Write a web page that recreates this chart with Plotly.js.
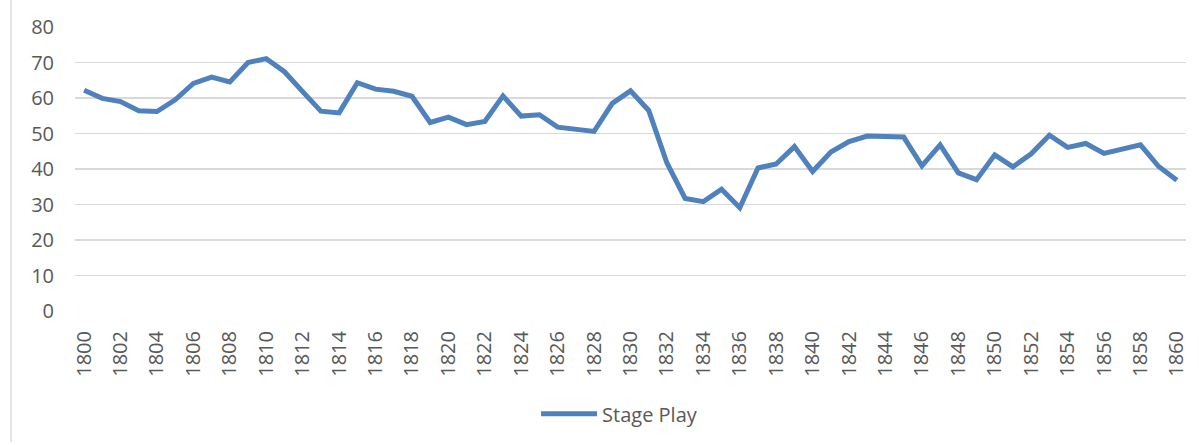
<!DOCTYPE html>
<html>
<head>
<meta charset="utf-8">
<script src="https://cdn.plot.ly/plotly-3.0.1.min.js"></script>
<style>
html,body{margin:0;padding:0;background:#fff;}
#chart{width:1199px;height:445px;}
</style>
</head>
<body>
<div id="chart"></div>
<script>
const years = [];
for (let y = 1800; y <= 1860; y++) years.push(y);
const seriesName = "Stage Play";
const stagePlay = [
  62.2, 59.9, 59.0, 56.4, 56.2, 59.5, 64.1, 65.9, 64.5, 70.0,
  71.1, 67.4, 61.8, 56.3, 55.8, 64.3, 62.5, 61.9, 60.5, 53.1,
  54.6, 52.5, 53.4, 60.6, 54.9, 55.3, 51.8, 51.1, 50.6, 58.5,
  62.0, 56.5, 41.7, 31.7, 30.8, 34.3, 29.1, 40.3, 41.4, 46.3,
  39.3, 44.8, 47.7, 49.3, 49.3, 49.0, 40.9, 46.8, 38.9, 37.0,
  44.0, 40.6, 44.3, 49.5, 46.1, 47.2, 44.4, 45.6, 46.8, 40.7,
  36.8
];
const yTicks = [0, 10, 20, 30, 40, 50, 60, 70, 80];
const xTicks = years.filter(y => (y - 1800) % 2 === 0);

const font = {family: "Open Sans, Liberation Sans, sans-serif", size: 20, color: "#595959"};

const trace = {
  x: years,
  y: stagePlay,
  type: "scatter",
  mode: "lines",
  name: seriesName,
  line: {color: "#4f81bd", width: 5, shape: "linear"}
};

const layout = {
  width: 1199,
  height: 445,
  margin: {l: 75, r: 13, t: 27, b: 132, pad: 0},
  paper_bgcolor: "#ffffff",
  plot_bgcolor: "#ffffff",
  font: font,
  showlegend: true,
  legend: {
    orientation: "h",
    x: 0.415, xanchor: "left",
    y: -0.362, yanchor: "middle",
    font: font,
    itemwidth: 56,
    bgcolor: "rgba(0,0,0,0)"
  },
  xaxis: {
    range: [1799.5, 1860.5],
    tickmode: "array",
    tickvals: xTicks,
    ticktext: xTicks.map(String),
    tickangle: -90,
    showgrid: false,
    zeroline: false,
    showline: false,
    ticks: "",
    ticklabelstandoff: 15,
    tickfont: font,
    fixedrange: true
  },
  yaxis: {
    range: [0, 80],
    tickmode: "array",
    tickvals: yTicks,
    ticktext: yTicks.map(String),
    showgrid: true,
    gridcolor: "#d9d9d9",
    gridwidth: 1.5,
    zeroline: false,
    showline: false,
    ticks: "",
    ticklabelstandoff: 20,
    tickfont: font,
    fixedrange: true
  },
  shapes: [
    {
      type: "line", xref: "paper", yref: "paper",
      x0: -0.0576, x1: -0.0576, y0: -0.46, y1: 1.1,
      line: {color: "#d9d9d9", width: 1.5}
    }
  ]
};

Plotly.newPlot("chart", [trace], layout, {staticPlot: true, displayModeBar: false});
</script>
</body>
</html>
